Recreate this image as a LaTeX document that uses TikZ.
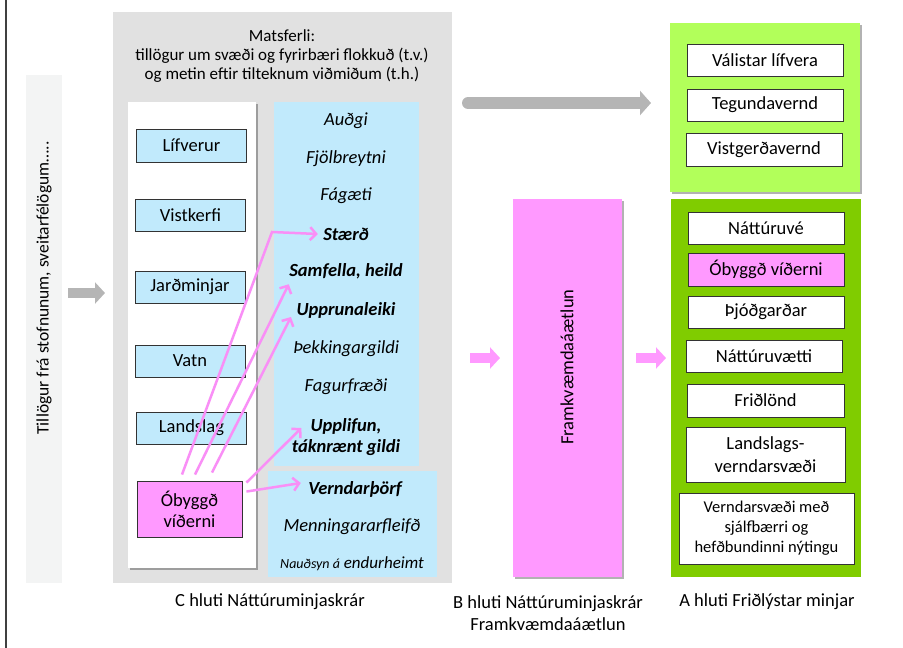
\documentclass[tikz,border=0pt]{standalone}
\usepackage{fontspec}
\setmainfont{Carlito}
\usetikzlibrary{arrows.meta,shadows}
\definecolor{panelgrey}{HTML}{E1E1E1}
\definecolor{faintgrey}{HTML}{F3F4F4}
\definecolor{lblue}{HTML}{C1EAFC}
\definecolor{pinkc}{HTML}{FF99FF}
\definecolor{pinkline}{HTML}{F98FF6}
\definecolor{limec}{HTML}{B2FF5A}
\definecolor{greenc}{HTML}{80CC00}
\definecolor{arrgrey}{HTML}{B5B5B5}
\begin{document}
\begin{tikzpicture}[x=1pt,y=-1pt,
  sz/.style 2 args={minimum width=#1pt,minimum height=#2pt,inner sep=0pt},
  shad/.style={drop shadow={shadow xshift=2pt,shadow yshift=-2pt,opacity=0.3,fill=black}},
  catbox/.style={draw=black!80,line width=0.9pt,fill=lblue,font=\fontsize{18.5}{21}\selectfont,align=center},
  rbox/.style={draw=black!80,line width=0.9pt,fill=white,font=\fontsize{18.5}{22.5}\selectfont,align=center},
  crit/.style={font=\fontsize{18.5}{21}\selectfont\itshape,align=center},
  critb/.style={font=\fontsize{18.5}{21}\selectfont\itshape\bfseries,align=center},
  lbl/.style={font=\fontsize{18.5}{22}\selectfont,align=center},
  pinkarr/.style={draw=pinkline,line width=2.5pt,-{Straight Barb[length=6pt,width=13pt]}},
  pinkblock/.style={draw=pinkc,line width=10pt,-{Triangle[length=10pt,width=21pt]}}
]
\useasboundingbox (0,0) rectangle (903,648);
\draw[line width=1.2pt,black!75] (6,0) -- (6,648);

% left column
\node[fill=faintgrey,sz={36}{508}] (lrect) at (44,329) {};
\node[rotate=90,font=\fontsize{17.5}{21}\selectfont] (ltext) at (44,288) {Tillögur frá stofnunum, sveitarfélögum…..};

% grey panel
\node[fill=panelgrey,sz={339}{571}] (panel) at (282.5,297.5) {};
\node[font=\fontsize{17}{19}\selectfont,align=center] (head) at (282,56) {Matsferli:\\tillögur um svæði og fyrirbæri flokkuð (t.v.)\\og metin eftir tilteknum viðmiðum (t.h.)};

\node[fill=white,shad,sz={128}{466}] (wcol) at (192,335) {};
\node[fill=lblue,sz={145}{364}] (bcol) at (346.5,284) {};
\node[fill=lblue,sz={169}{106}] (bbox) at (352.5,524) {};

\node[catbox,sz={110}{33}] (lif) at (191.5,145.5) {Lífverur};
\node[catbox,sz={110}{32}] (vist) at (190.5,215) {Vistkerfi};
\node[catbox,sz={110}{32}] (jard) at (190,287) {Jarðminjar};
\node[catbox,sz={110}{32}] (vatn) at (190,361) {Vatn};
\node[catbox,sz={110}{32}] (land) at (191.5,428) {Landslag};
\node[catbox,fill=pinkc,sz={105}{56}] (ob) at (189.5,509) {Óbyggð\\víðerni};

\node[crit] (audgi) at (346,121) {Auðgi};
\node[crit] (fjol) at (346,159) {Fjölbreytni};
\node[crit] (fag) at (346,196) {Fágæti};
\node[critb] (staerd) at (346,234) {Stærð};
\node[critb] (samf) at (346,271) {Samfella, heild};
\node[critb] (uppr) at (346,310) {Upprunaleiki};
\node[crit] (thekk) at (346,349) {Þekkingargildi};
\node[crit] (fagur) at (346,387) {Fagurfræði};
\node[critb] (uppl) at (346,437) {Upplifun,\\táknrænt gildi};
\node[critb] (vern) at (355,489) {Verndarþörf};
\node[crit] (menn) at (352,527) {Menningararfleifð};
\node[font=\fontsize{17}{20}\selectfont\itshape] (naud) at (352,564) {{\fontsize{14}{16}\selectfont Nauðsyn á} endurheimt};

% pink arrows
\coordinate (bend) at (272,232);
\draw[pinkarr] ([xshift=-7.5pt,yshift=6pt]ob.north) -- (bend) -- ([xshift=-2pt]staerd.west);
\draw[pinkarr] ([xshift=5.5pt,yshift=6pt]ob.north) -- ([xshift=3pt,yshift=-2pt]samf.south west);
\draw[pinkarr] ([xshift=22.5pt,yshift=8pt]ob.north) -- ([xshift=-2pt,yshift=-7pt]uppr.west);
\draw[pinkarr] ([xshift=4pt,yshift=-2pt]ob.north east) -- ([xshift=13pt,yshift=9pt]uppl.west);
\draw[pinkarr] ([xshift=4pt,yshift=-11pt]ob.north east) -- ([xshift=-4pt,yshift=6pt]vern.west);

% grey arrows
\coordinate (g1a) at (68,293);
\coordinate (g1b) at (105,293);
\draw[draw=arrgrey,line width=10pt,-{Triangle[length=10pt,width=21pt]}] (g1a) -- (g1b);
\coordinate (g2a) at (468,103);
\coordinate (g2b) at (651,103);
\draw[draw=arrgrey,line width=12pt,line cap=round,-{Triangle[length=11pt,width=24pt]}] (g2a) -- (g2b);

% pink column
\node[fill=pinkc,shad,sz={109}{378}] (pcol) at (567.5,388) {};
\node[rotate=90,lbl] (ptext) at (567,367) {Framkvæmdaáætlun};
\coordinate (p1a) at (470,358);
\coordinate (p1b) at (500,358);
\draw[pinkblock] (p1a) -- (p1b);
\coordinate (p2a) at (636,358);
\coordinate (p2b) at (666,358);
\draw[pinkblock] (p2a) -- (p2b);

% green boxes
\node[fill=limec,shad,sz={190}{169}] (topg) at (765,107.5) {};
\node[rbox,sz={156}{32}] (valist) at (765,60) {Válistar lífvera};
\node[rbox,sz={156}{32}] (teg) at (765,105) {Tegundavernd};
\node[rbox,sz={156}{33}] (vistg) at (764,149.5) {Vistgerðavernd};

\node[fill=greenc,sz={190}{378}] (botg) at (766,388) {};
\node[rbox,sz={156}{32}] (natt) at (766,228) {Náttúruvé};
\node[rbox,fill=pinkc,sz={156}{33}] (obg) at (766,269.5) {Óbyggð víðerni};
\node[rbox,sz={156}{32}] (thjod) at (766,312) {Þjóðgarðar};
\node[rbox,sz={156}{32}] (nv) at (764,356) {Náttúruvætti};
\node[rbox,sz={157}{33}] (frid) at (765.5,400.5) {Friðlönd};
\node[rbox,sz={159}{55}] (lsv) at (765.5,454.5) {Landslags-\\verndarsvæði};
\node[rbox,font=\fontsize{16.5}{20}\selectfont,sz={175}{71}] (vsm) at (766.5,528.5) {Verndarsvæði með\\sjálfbærri og\\hefðbundinni nýtingu};

% bottom labels
\node[lbl] (clab) at (270,602) {C hluti Náttúruminjaskrár};
\node[lbl] (blab) at (548,613) {B hluti Náttúruminjaskrár\\Framkvæmdaáætlun};
\node[lbl] (alab) at (767,602) {A hluti Friðlýstar minjar};
\end{tikzpicture}
\end{document}
